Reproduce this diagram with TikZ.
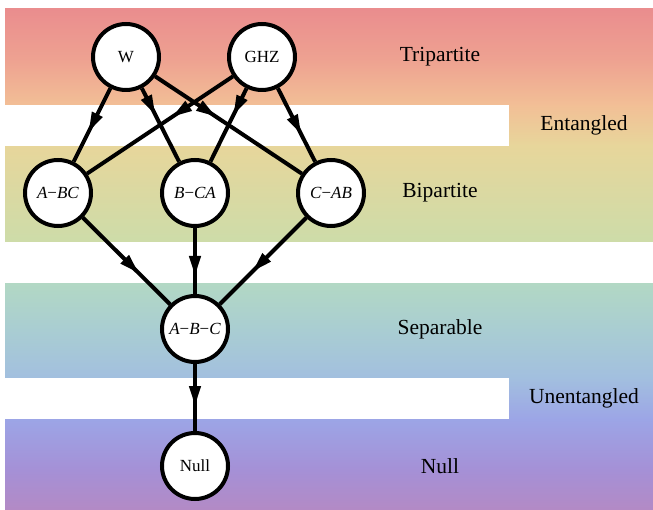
\documentclass[tikz,border=0pt]{standalone}
\usepackage{fontspec}
\setmainfont{Liberation Serif}
\usetikzlibrary{arrows.meta,decorations.markings}
\definecolor{g0}{HTML}{EA8D8E}
\definecolor{g1}{HTML}{EEA291}
\definecolor{g2}{HTML}{F2BF96}
\definecolor{g3}{HTML}{E7D69B}
\definecolor{g4}{HTML}{CDDCA9}
\definecolor{g5}{HTML}{B2D8C4}
\definecolor{g6}{HTML}{A9CDD2}
\definecolor{g7}{HTML}{A2BFDF}
\definecolor{g8}{HTML}{9CA5E6}
\definecolor{g9}{HTML}{A590D6}
\definecolor{g10}{HTML}{B38AC5}
\begin{document}
\begin{tikzpicture}[x=1pt,y=-1pt,
  state/.style={circle,draw,line width=4pt,fill=white,minimum size=66pt,inner sep=0pt,font=\fontsize{17}{19}\selectfont},
  lbl/.style={font=\fontsize{21.5}{24}\selectfont},
  edge/.style={line width=4pt},
  midarrow/.style={edge,postaction={decorate},decoration={markings,mark=at position #1 with {\arrow{Triangle[length=20pt,width=11pt]}}}}
]
\useasboundingbox (0,0) rectangle (653,510);
% background gradient
\shade[top color=g0,bottom color=g1] (5,9) rectangle (653,60.5);
\shade[top color=g1,bottom color=g2] (5,60) rectangle (653,105.5);
\shade[top color=g2,bottom color=g3] (5,105) rectangle (653,146.5);
\shade[top color=g3,bottom color=g4] (5,146) rectangle (653,242.5);
\shade[top color=g4,bottom color=g5] (5,242) rectangle (653,283.5);
\shade[top color=g5,bottom color=g6] (5,283) rectangle (653,330.5);
\shade[top color=g6,bottom color=g7] (5,330) rectangle (653,378.5);
\shade[top color=g7,bottom color=g8] (5,378) rectangle (653,419.5);
\shade[top color=g8,bottom color=g9] (5,419) rectangle (653,470.5);
\shade[top color=g9,bottom color=g10] (5,470) rectangle (653,510);
% white bands
\fill[white] (5,105) rectangle (509,146);
\fill[white] (5,242) rectangle (653,283);
\fill[white] (5,378) rectangle (509,419);
% nodes
\node[state] (w) at (126,57) {W};
\node[state] (ghz) at (262,57) {GHZ};
\node[state] (abc1) at (58,193) {\textit{A}−\textit{BC}};
\node[state] (bca) at (195,193) {\textit{B}−\textit{CA}};
\node[state] (cab) at (331,193) {\textit{C}−\textit{AB}};
\node[state] (sep) at (195,329) {\textit{A}−\textit{B}−\textit{C}};
\node[state] (null) at (195,466) {Null};
% labels
\node[lbl] (tri) at (440,57) {Tripartite};
\node[lbl] (ent) at (584,125) {Entangled};
\node[lbl] (bip) at (440,193) {Bipartite};
\node[lbl] (sepl) at (440,329) {Separable};
\node[lbl] (unent) at (584,398) {Unentangled};
\node[lbl] (nulll) at (440,466) {Null};
% edges
\draw[midarrow=49pt] (w) -- (abc1);
\draw[midarrow=30pt] (w) -- (bca);
\draw[midarrow=73pt] (w) -- (cab);
\draw[midarrow=73pt] (ghz) -- (abc1);
\draw[midarrow=30pt] (ghz) -- (bca);
\draw[midarrow=52pt] (ghz) -- (cab);
\draw[midarrow=79pt] (abc1) -- (sep);
\draw[midarrow=48pt] (bca) -- (sep);
\draw[midarrow=76pt] (cab) -- (sep);
\draw[midarrow=42pt] (sep) -- (null);
\end{tikzpicture}
\end{document}
